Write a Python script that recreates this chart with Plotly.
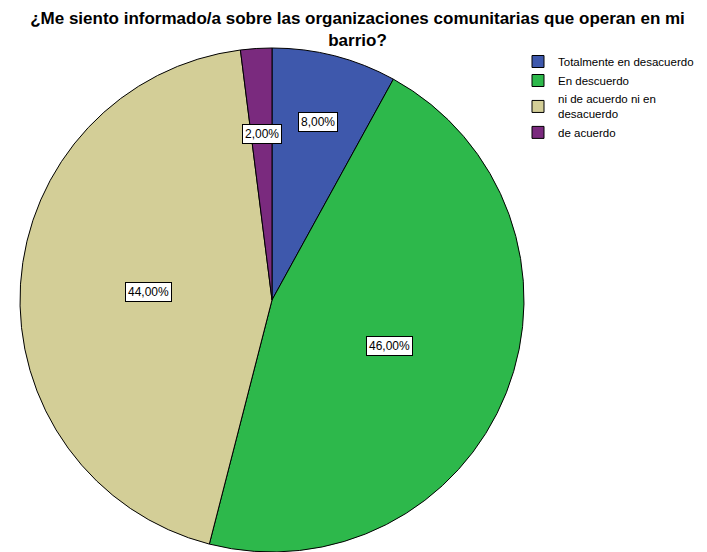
import math
import plotly.graph_objects as go

labels = ["Totalmente en desacuerdo", "En descuerdo", "ni de acuerdo ni en<br>desacuerdo", "de acuerdo"]
values = [8, 46, 44, 2]
colors = ["#3E58AC", "#2DB84B", "#D3CE97", "#7A2A7E"]
# fraction of the radius where each box label sits
label_r = [0.73, 0.5, 0.49, 0.66]

# page body has an 8px margin, so the figure is 8px smaller than the window
W, H = 699, 544
cx, cy, R = 264, 292, 252

fig = go.Figure(go.Pie(
    labels=labels,
    values=values,
    sort=False,
    direction="clockwise",
    rotation=0,
    textinfo="none",
    hoverinfo="label+percent",
    marker=dict(colors=colors, line=dict(color="black", width=1)),
    domain=dict(x=[(cx - R) / W, (cx + R) / W], y=[max(0, 1 - (cy + R) / H), 1 - (cy - R) / H]),
))

total = sum(values)
start = 0.0
annotations = []
for v, fr in zip(values, label_r):
    mid = (start + v / 2) / total * 2 * math.pi
    start += v
    px_ = cx + fr * R * math.sin(mid)
    py_ = cy - fr * R * math.cos(mid)
    annotations.append(dict(
        x=px_ / W, y=1 - py_ / H, xref="paper", yref="paper",
        xanchor="center", yanchor="middle",
        text=f"{v / total * 100:.2f}%".replace(".", ","),
        showarrow=False, bgcolor="white", bordercolor="black", borderwidth=1,
        borderpad=2, font=dict(size=12, color="black"),
    ))

fig.update_layout(
    width=W, height=H,
    margin=dict(l=0, r=0, t=0, b=0),
    paper_bgcolor="white",
    font=dict(family="Liberation Sans, Arial, sans-serif", color="black"),
    title=dict(
        text="<b>¿Me siento informado/a sobre las organizaciones comunitarias que operan en mi<br>barrio?</b>",
        x=0.5, xanchor="center", y=1 - 16 / H, yanchor="top",
        font=dict(size=17, color="black"),
    ),
    legend=dict(
        x=510 / W, y=1 - 39 / H, xanchor="left", yanchor="top",
        font=dict(size=11.5), itemwidth=30, tracegroupgap=0,
        bgcolor="rgba(0,0,0,0)",
    ),
    annotations=annotations,
)

fig.write_html("out.html")
